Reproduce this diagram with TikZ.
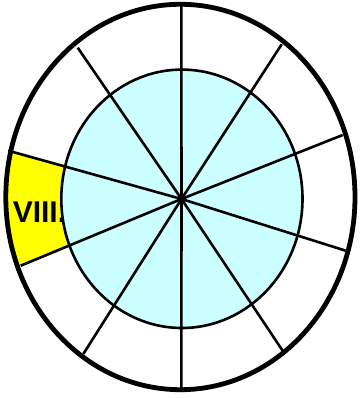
\documentclass[tikz,border=0pt]{standalone}
\usepackage{fontspec}
\setsansfont{Liberation Sans}
\usetikzlibrary{positioning}
\definecolor{cpale}{HTML}{CCFFFF}
\definecolor{cyell}{HTML}{FFFF00}
\tikzset{
  every picture/.style={line width=2.6pt},
  rim/.style={draw=black, line width=4.8pt},
  core/.style={draw=black, fill=cpale, line width=2.6pt},
  spoke/.style={draw=black, line width=2.6pt},
  numtext/.style={font=\sffamily\bfseries\fontsize{30}{30}\selectfont, inner sep=0pt},
}
\begin{document}
\begin{tikzpicture}[x=1pt, y=1pt]
  \useasboundingbox (0,0) rectangle (360,398);
  \coordinate (hub) at (181.5,199);
  \coordinate (mid) at (180.4,201);
  % spoke ends on the rim
  \coordinate (s0) at (181.3,393);
  \coordinate (s1) at (281.7,353.7);
  \coordinate (s2) at (342.7,263);
  \coordinate (s3) at (345.7,147.3);
  \coordinate (s4) at (283.3,46.3);
  \coordinate (s5) at (181.3,6);
  \coordinate (s6) at (83.3,44);
  \coordinate (s7) at (20.7,132.3);
  \coordinate (s8) at (8.3,247.3);
  \coordinate (s9) at (77.7,350.3);
  \fill[white] (mid) ellipse [x radius=174.6, y radius=192.7];
  % the marked sector
  \begin{scope}
    \clip (mid) ellipse [x radius=174.6, y radius=192.7];
    \fill[cyell] (hub) -- (s8) -- (-5,250) -- (-5,130) -- (s7) -- cycle;
  \end{scope}
  \path[core] (181.9,199.2) ellipse [x radius=120.6, y radius=129.2];
  \foreach \i in {0,...,9}
    \draw[spoke] (hub) -- (s\i);
  \path[rim] (mid) ellipse [x radius=174.6, y radius=192.7];
  \node[numtext, anchor=base west] (eight) at (11.5,175.5) {VIII.};
\end{tikzpicture}
\end{document}
